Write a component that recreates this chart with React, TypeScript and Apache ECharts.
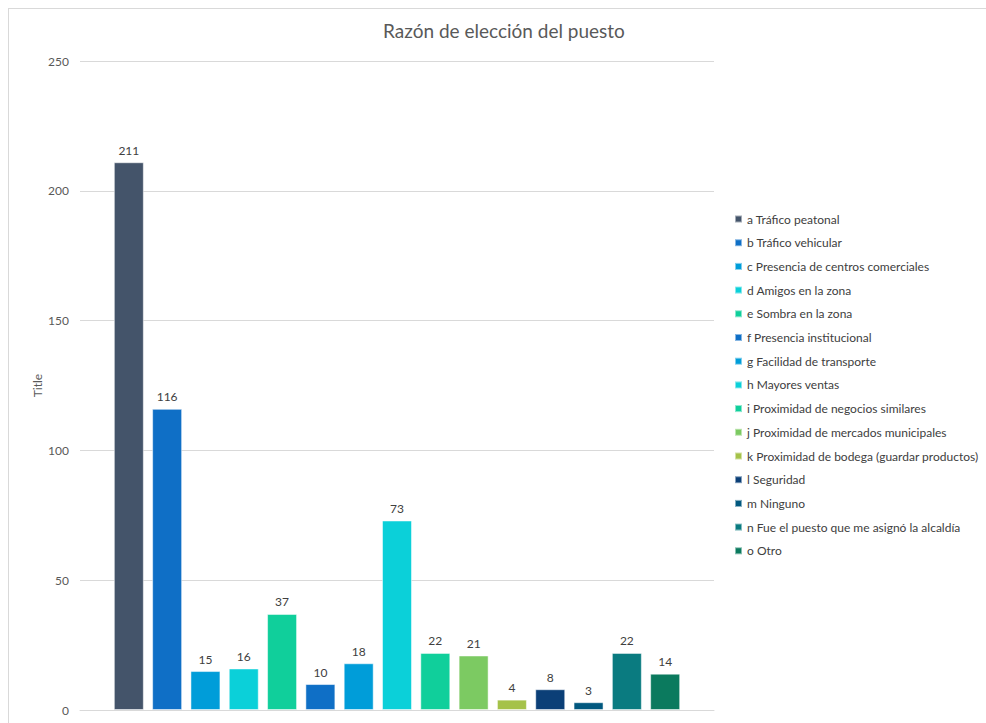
import React, { useEffect, useRef } from "react";
import * as echarts from "echarts";

const title = "Razón de elección del puesto";
const yAxisName = "Title";
const categories = [
  "a Tráfico peatonal",
  "b Tráfico vehicular",
  "c Presencia de centros comerciales",
  "d Amigos en la zona",
  "e Sombra en la zona",
  "f Presencia institucional",
  "g Facilidad de transporte",
  "h Mayores ventas",
  "i Proximidad de negocios similares",
  "j Proximidad de mercados municipales",
  "k Proximidad de bodega (guardar productos)",
  "l Seguridad",
  "m Ninguno",
  "n Fue el puesto que me asignó la alcaldía",
  "o Otro",
];
const values = [211, 116, 15, 16, 37, 10, 18, 73, 22, 21, 4, 8, 3, 22, 14];
const palette = [
  "#44546A", "#0F6FC6", "#009DD9", "#0BD0D9", "#10CF9B",
  "#0F6FC6", "#009DD9", "#0BD0D9", "#10CF9B", "#7CCA62",
  "#A5C249", "#0B3F77", "#01587F", "#0A7B80", "#0B7A5E",
];
const yTicks = { min: 0, max: 250, interval: 50 };

const FONT = "Lato, 'Open Sans', sans-serif";

export default function App() {
  const ref = useRef<HTMLDivElement>(null);
  useEffect(() => {
    document.body.style.overflow = "hidden";
    const chart = echarts.init(ref.current!, null, { renderer: "svg" });
    chart.setOption({
      animation: false,
      textStyle: { fontFamily: FONT },
      title: {
        text: title,
        left: 490,
        textAlign: "center",
        top: 7,
        textStyle: { fontSize: 19, fontWeight: "normal", color: "#595959", fontFamily: FONT },
      },
      legend: {
        orient: "vertical",
        left: 720,
        top: 198,
        itemWidth: 7,
        itemHeight: 7,
        itemGap: 9.7,
        icon: "rect",
        textStyle: { fontSize: 12, color: "#404040", lineHeight: 14, fontFamily: FONT },
        data: categories,
      },
      grid: { left: 71, top: 52, width: 634, height: 649, containLabel: false },
      xAxis: {
        type: "category",
        data: [""],
        axisLine: { lineStyle: { color: "#D9D9D9" } },
        axisTick: { show: false },
        axisLabel: { show: false },
      },
      yAxis: {
        type: "value",
        min: yTicks.min,
        max: yTicks.max,
        interval: yTicks.interval,
        name: yAxisName,
        nameLocation: "middle",
        nameGap: 37,
        nameMoveOverlap: false,
        nameTextStyle: { fontSize: 12, color: "#595959", fontFamily: FONT },
        axisLine: { show: false },
        axisTick: { show: false },
        axisLabel: { color: "#595959", fontSize: 12, margin: 11, fontFamily: FONT },
        splitLine: { lineStyle: { color: "#D9D9D9" } },
      },
      series: categories.map((name, i) => ({
        type: "bar",
        name,
        data: [values[i]],
        barWidth: 30,
        barGap: "27.7%",
        itemStyle: { color: palette[i], borderColor: "rgba(255,255,255,0.5)", borderWidth: 1 },
        label: {
          show: true,
          position: "top",
          distance: 6,
          color: "#404040",
          fontSize: 12,
          fontFamily: FONT,
        },
      })),
    });
    return () => chart.dispose();
  }, []);
  return (
    <div
      style={{
        position: "fixed",
        left: 8,
        top: 8,
        width: 1000,
        height: 740,
        border: "1px solid #D9D9D9",
        background: "#fff",
      }}
    >
      <div ref={ref} style={{ width: 1000, height: 740 }} />
    </div>
  );
}
